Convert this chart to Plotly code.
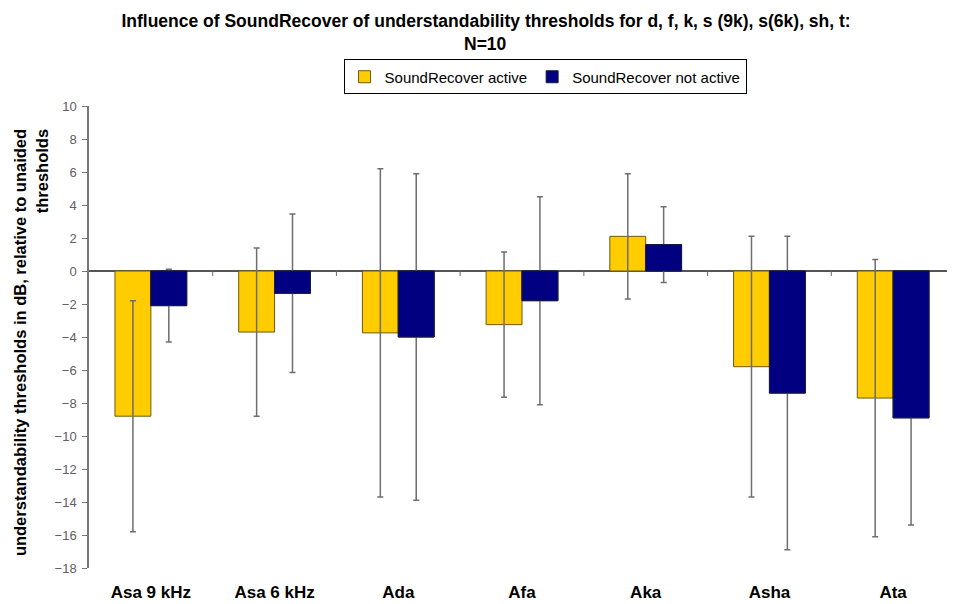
import plotly.graph_objects as go

categories = ["Asa 9 kHz", "Asa 6 kHz", "Ada", "Afa", "Aka", "Asha", "Ata"]
active = [-8.8, -3.7, -3.75, -3.25, 2.1, -5.8, -7.7]
active_err = [7.0, 5.1, 9.95, 4.4, 3.8, 7.9, 8.4]
not_active = [-2.1, -1.35, -4.0, -1.8, 1.6, -7.4, -8.9]
not_active_err = [2.2, 4.8, 9.9, 6.3, 2.3, 9.5, 6.5]
y_ticks = list(range(-18, 11, 2))

FONT = "Liberation Sans, Arial, sans-serif"
ERR_COLOR = "#6e6e6e"

fig = go.Figure()
fig.add_trace(go.Bar(
    name="SoundRecover active", x=categories, y=active, offsetgroup="a",
    marker=dict(color="#FFCC00", line=dict(color="#6b5a10", width=1)),
    error_y=dict(type="data", array=active_err, visible=True,
                 color=ERR_COLOR, thickness=1.5, width=3),
))
# navy series: error bars first, then the same bars drawn over them
fig.add_trace(go.Bar(
    name="SoundRecover not active", x=categories, y=not_active, offsetgroup="b",
    marker=dict(color="#000080", line=dict(color="#1a1a40", width=1)),
    error_y=dict(type="data", array=not_active_err, visible=True,
                 color=ERR_COLOR, thickness=1.5, width=3),
    showlegend=False, hoverinfo="skip",
))
fig.add_trace(go.Bar(
    name="SoundRecover not active", x=categories, y=not_active, offsetgroup="b",
    marker=dict(color="#000080", line=dict(color="#1a1a40", width=1)),
))

# category boundary tick marks on the zero line
for i in range(len(categories)):
    fig.add_shape(type="line", xref="x", yref="y",
                  x0=i + 0.5, x1=i + 0.5, y0=0, y1=-0.3,
                  line=dict(color="#666666", width=1))

fig.update_layout(
    width=947, height=596,
    paper_bgcolor="white", plot_bgcolor="white",
    margin=dict(l=81, r=0, t=98, b=36),
    barmode="group", bargap=0.42, bargroupgap=0,
    font=dict(family=FONT, color="#000000"),
    title=dict(
        text="<b>Influence of SoundRecover of understandability thresholds for d, f, k, s (9k), s(6k), sh, t:</b>",
        x=0.5048, xref="container", xanchor="center",
        y=0.9787, yref="container", yanchor="middle",
        font=dict(size=17.5, color="#000000", family=FONT),
    ),
    legend=dict(
        orientation="h", x=0.5266, xanchor="center", y=1.0628, yanchor="middle",
        bordercolor="#000000", borderwidth=1, bgcolor="white",
        font=dict(size=15, family=FONT), tracegroupgap=0,
    ),
    showlegend=True,
    xaxis=dict(
        range=[-0.5, 6.5], showline=False, ticks="", showgrid=False,
        tickfont=dict(size=17, color="#000000", family=FONT),
        ticklabelstandoff=12,
        tickprefix="<b>", ticksuffix="</b>",
    ),
    yaxis=dict(
        range=[-18, 10], tickvals=y_ticks, showgrid=False,
        showline=True, linecolor="#777777", linewidth=1.5,
        ticks="outside", ticklen=5, tickcolor="#777777",
        tickfont=dict(size=13, color="#606060", family=FONT),
        ticklabelstandoff=3,
        zeroline=True, zerolinecolor="#555555", zerolinewidth=1.5,
    ),
)

fig.add_annotation(
    text="<b>N=10</b>",
    xref="paper", yref="paper", x=0.4584, y=1.134,
    xanchor="center", yanchor="middle", showarrow=False,
    font=dict(size=17.5, color="#000000", family=FONT),
)

fig.add_annotation(
    text="<b>understandability thresholds in dB, relative to unaided<br>thresholds</b>",
    xref="paper", yref="paper", x=-0.068, y=0.487, xanchor="center", yanchor="middle",
    textangle=-90, showarrow=False, align="right",
    font=dict(size=16.5, color="#000000", family=FONT),
)

fig.write_html("out.html")
